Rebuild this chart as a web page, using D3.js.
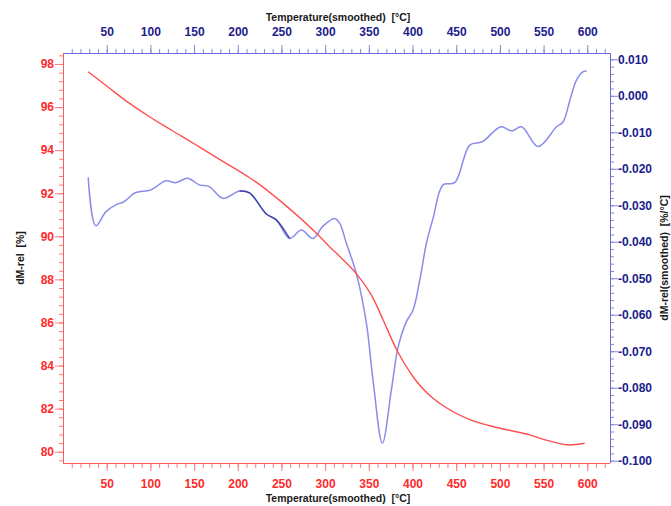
<!DOCTYPE html>
<html><head><meta charset="utf-8">
<script src="https://cdn.jsdelivr.net/npm/d3@7"></script>
<style>body{margin:0;background:#fff}</style></head>
<body><svg id="c" width="671" height="506"></svg>
<script>
// TG curve: relative mass [%] vs temperature
const tgTemp = [28.8, 50, 75.8, 99, 114, 137, 152, 175, 183, 213.5, 225, 252, 290, 305, 317, 336, 355, 366, 382, 400.6, 423.5, 431, 462, 500, 534, 553, 580, 597];
const tgMass = [97.64, 96.98, 96.18, 95.55, 95.17, 94.62, 94.25, 93.68, 93.48, 92.72, 92.40, 91.53, 90.14, 89.52, 89.05, 88.25, 87.12, 86.15, 84.72, 83.48, 82.48, 82.25, 81.55, 81.09, 80.78, 80.54, 80.31, 80.39];
// DTG curve: dM-rel (smoothed) [%/°C]
const dtgTemp = [28.8, 37.5, 49, 60.4, 70, 81.5, 87.2, 100.5, 117.7, 129.1, 142.5, 155.9, 167.4, 183, 202.1, 213.5, 232.7, 244.1, 259.4, 272.8, 286, 297.5, 310.9, 316.6, 324.3, 335.8, 347.2, 354.8, 365.5, 375.8, 383.4, 393, 400.6, 408.3, 415.9, 423.5, 434.9, 448.3, 465.5, 479.8, 501, 513.3, 524.8, 543.8, 564.8, 572.4, 580.1, 587.7, 595.3, 599.2];
const dtgRate = [-0.0223, -0.0356, -0.0318, -0.0299, -0.0290, -0.0267, -0.0263, -0.0258, -0.0233, -0.0238, -0.0226, -0.0244, -0.0249, -0.0281, -0.0261, -0.0266, -0.0324, -0.0340, -0.0391, -0.0368, -0.0391, -0.0357, -0.0336, -0.0349, -0.0404, -0.0488, -0.0623, -0.0779, -0.0952, -0.0806, -0.0690, -0.0619, -0.0587, -0.0505, -0.0404, -0.0336, -0.0244, -0.0238, -0.0135, -0.0126, -0.0085, -0.0096, -0.0085, -0.0139, -0.0085, -0.0071, -0.0012, 0.0043, 0.0066, 0.0068];

const xTickValues = [50, 100, 150, 200, 250, 300, 350, 400, 450, 500, 550, 600];
const leftTickValues = [80, 82, 84, 86, 88, 90, 92, 94, 96, 98];
const rightTickValues = [-0.100, -0.090, -0.080, -0.070, -0.060, -0.050, -0.040, -0.030, -0.020, -0.010, 0.000, 0.010];
const rightTickLabels = ["-0.100", "-0.090", "-0.080", "-0.070", "-0.060", "-0.050", "-0.040", "-0.030", "-0.020", "-0.010", "0.000", "0.010"];
const xTitle = "Temperature(smoothed)  [°C]";
const leftTitle = "dM-rel  [%]";
const rightTitle = "dM-rel(smoothed)  [%/°C]";

const L = 63, R = 610, T = 53, B = 463;
const svg = d3.select("#c");
svg.append("rect").attr("width", 671).attr("height", 506).attr("fill", "#fff");

const x = d3.scaleLinear().domain([0, 626]).range([L, R]);
const yL = d3.scaleLinear().domain([79.475, 98.51]).range([B, T]);
const yR = d3.scaleLinear().domain([-0.10063, 0.01173]).range([B, T]);

const RED = "#ff2a2a", REDT = "#ff7a7a", BLUE = "#1c1c8c", BLUET = "#8888d8";
const font = "'Liberation Sans', Arial, sans-serif";

function style(g, tickCol, textCol) {
  g.select(".domain").remove();
  g.selectAll(".tick line").attr("stroke", tickCol);
  g.selectAll("text").attr("fill", textCol).attr("font-family", font)
    .attr("font-weight", "bold").attr("font-size", 12);
}
const xMinor = d3.range(10, 621, 10);
const lMinor = d3.range(79.6, 98.5, 0.4);
const rMinor = d3.range(-0.100, 0.0115, 0.002);

// bottom
let g = svg.append("g").attr("transform", `translate(0,${B})`)
  .call(d3.axisBottom(x).tickValues(xMinor).tickSize(5).tickFormat(""));
style(g, REDT, RED);
g = svg.append("g").attr("transform", `translate(0,${B})`)
  .call(d3.axisBottom(x).tickValues(xTickValues).tickSize(8));
style(g, REDT, RED);
g.selectAll("text").attr("y", 21).attr("dy", "0.35em");
// top
g = svg.append("g").attr("transform", `translate(0,${T})`)
  .call(d3.axisTop(x).tickValues(xMinor).tickSize(4).tickFormat(""));
style(g, BLUET, BLUE);
g = svg.append("g").attr("transform", `translate(0,${T})`)
  .call(d3.axisTop(x).tickValues(xTickValues).tickSize(8));
style(g, BLUET, BLUE);
g.selectAll("text").attr("y", -21).attr("dy", "0.35em");
// left
g = svg.append("g").attr("transform", `translate(${L},0)`)
  .call(d3.axisLeft(yL).tickValues(lMinor).tickSize(4).tickFormat(""));
style(g, REDT, RED);
g = svg.append("g").attr("transform", `translate(${L},0)`)
  .call(d3.axisLeft(yL).tickValues(leftTickValues).tickSize(8));
style(g, REDT, RED);
g.selectAll("text").attr("x", -9);
// right
g = svg.append("g").attr("transform", `translate(${R},0)`)
  .call(d3.axisRight(yR).tickValues(rMinor).tickSize(4).tickFormat(""));
style(g, BLUET, BLUE);
g = svg.append("g").attr("transform", `translate(${R},0)`)
  .call(d3.axisRight(yR).tickValues(rightTickValues).tickSize(8).tickFormat((d, i) => rightTickLabels[i]));
style(g, BLUET, BLUE);
g.selectAll("text").attr("x", 8);

// frame
svg.append("line").attr("x1", L).attr("x2", R).attr("y1", T + 0.5).attr("y2", T + 0.5).attr("stroke", "#6a6ad8");
svg.append("line").attr("x1", R + 0.5).attr("x2", R + 0.5).attr("y1", T).attr("y2", B).attr("stroke", "#6a6ad8");
svg.append("line").attr("x1", L).attr("x2", R).attr("y1", B + 0.5).attr("y2", B + 0.5).attr("stroke", "#ff5a5a");
svg.append("line").attr("x1", L + 0.5).attr("x2", L + 0.5).attr("y1", T).attr("y2", B).attr("stroke", "#ff5a5a");

// titles
const tt = (txt, tx, ty, rot) => svg.append("text").text(txt)
  .attr("transform", `translate(${tx},${ty})` + (rot ? " rotate(-90)" : ""))
  .attr("text-anchor", "middle").attr("dy", "0.35em").style("white-space", "pre")
  .attr("font-family", font).attr("font-weight", "bold").attr("font-size", 10.5).attr("fill", "#1a1a1a");
tt(xTitle, 338, 17, false);
tt(xTitle, 338, 498, false);
tt(leftTitle, 20, 258, true);
tt(rightTitle, 664, 258, true);

// curves
const tgData = tgTemp.map((t, i) => [t, tgMass[i]]);
const dtgData = dtgTemp.map((t, i) => [t, dtgRate[i]]);
const lineL = d3.line().x(d => x(d[0])).y(d => yL(d[1])).curve(d3.curveMonotoneX);
const lineR = d3.line().x(d => x(d[0])).y(d => yR(d[1])).curve(d3.curveCatmullRom.alpha(0.5));
svg.append("path").datum(dtgData).attr("d", lineR).attr("fill", "none")
  .attr("stroke", "#7478e4").attr("stroke-width", 1.5).attr("stroke-opacity", 0.85);
// darker overdrawn stretch
svg.append("path").datum(dtgData.filter(d => d[0] >= 202 && d[0] <= 260)).attr("d", lineR).attr("fill", "none")
  .attr("stroke", "#2c2c9c").attr("stroke-width", 1.4).attr("stroke-opacity", 0.8);
svg.append("path").datum(tgData).attr("d", lineL).attr("fill", "none")
  .attr("stroke", "#ff5050").attr("stroke-width", 1.4);
</script></body></html>
